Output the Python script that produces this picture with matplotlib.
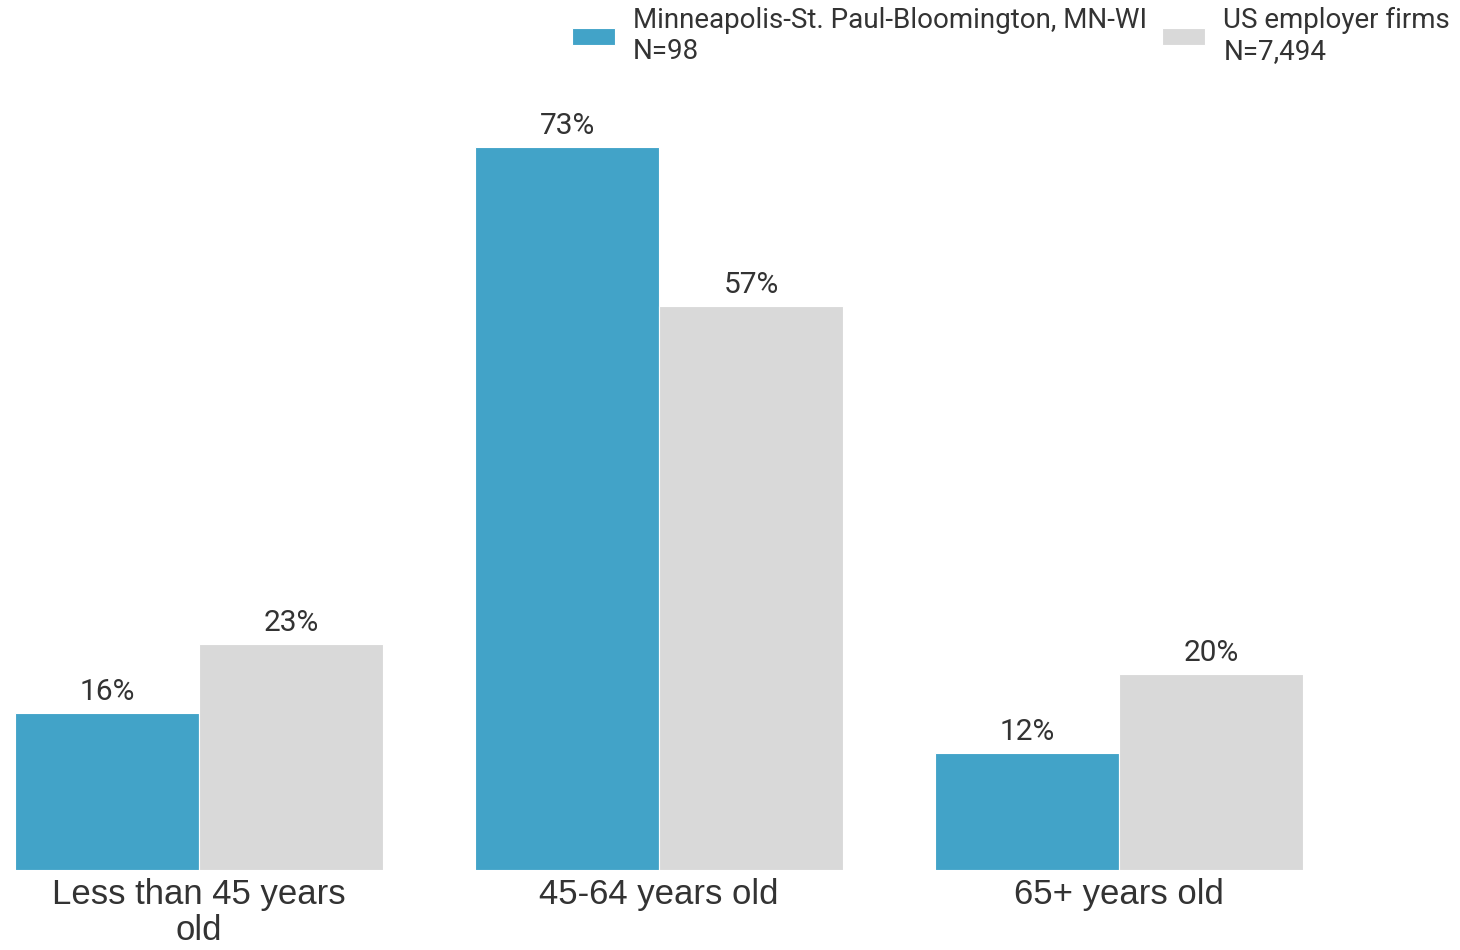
import matplotlib
matplotlib.use("Agg")
import matplotlib.pyplot as plt
import numpy as np

plt.rcParams['font.family'] = ['Roboto', 'DejaVu Sans']

categories = ["Less than 45 years\nold", "45-64 years old", "65+ years old"]
series_names = ["Minneapolis-St. Paul-Bloomington, MN-WI\nN=98", "US employer firms\nN=7,494"]
msp_values = [15.9, 73.0, 11.8]
us_values = [22.8, 57.0, 19.8]
msp_labels = ["16%", "73%", "12%"]
us_labels = ["23%", "57%", "20%"]

blue = "#42A3C8"
gray = "#D9D9D9"
text_color = "#333333"

fig = plt.figure(figsize=(14.6, 9.5), dpi=100)
ax = fig.add_axes([15/1460, 1 - 870/950, (1303 - 15)/1460, 792/950])

x = np.arange(len(categories))
w = 0.4
b1 = ax.bar(x - w/2, msp_values, w, color=blue, edgecolor="white", linewidth=0.8, label=series_names[0])
b2 = ax.bar(x + w/2, us_values, w, color=gray, edgecolor="white", linewidth=0.8, label=series_names[1])

for bars, labels in ((b1, msp_labels), (b2, us_labels)):
    for rect, lab in zip(bars, labels):
        ax.annotate(lab, (rect.get_x() + rect.get_width()/2, rect.get_height()),
                    xytext=(0, 5), textcoords="offset points", ha="center", va="bottom",
                    fontsize=21.5, color=text_color)

ax.set_xlim(-0.4, 2.4)
ax.set_ylim(0, 80)
ax.set_xticks(x)
ax.set_xticklabels(categories, fontsize=25, color=text_color, linespacing=1.12,
                   family=['Liberation Sans', 'DejaVu Sans'])
ax.tick_params(axis="x", length=0, pad=6)
ax.set_yticks([])
for s in ax.spines.values():
    s.set_visible(False)

fig.legend(handles=[b1, b2], loc="upper right", bbox_to_anchor=(1457/1460, 1.0),
           ncol=2, frameon=False, fontsize=20, labelcolor=text_color,
           handlelength=1.55, handleheight=0.55, handletextpad=0.65,
           columnspacing=0.55, borderpad=0, borderaxespad=0.25, labelspacing=0.5)

fig.savefig("out.png", dpi=100)
